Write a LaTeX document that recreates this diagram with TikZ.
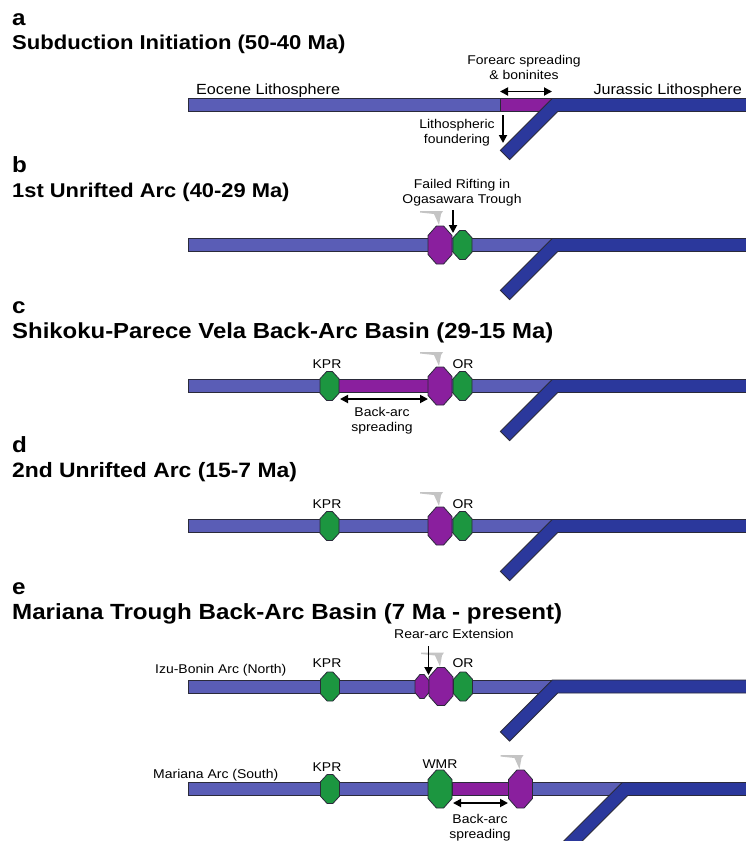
\documentclass[tikz,border=0pt]{standalone}
\usepackage{fontspec}
\setmainfont{Liberation Sans}[FakeStretch=1.1]
\usetikzlibrary{arrows.meta,positioning,calc}
\definecolor{Eocene}{HTML}{5A5DB6}
\definecolor{Jurassic}{HTML}{2B389C}
\definecolor{Arc}{HTML}{8A1F9E}
\definecolor{Ridge}{HTML}{1C9640}
\definecolor{Edge}{HTML}{2A2A3A}
\definecolor{Ash}{HTML}{C4C4C4}

% old plate bending into the trench: bend x, centre y, slab length
\newcommand{\oldplate}[3]{%
  \draw[old] (760,#2-6.5) -- (#1-2.7,#2-6.5) -- ++(-#3-1.9,#3+1.9) -- ++(9.2,9.2)
    -- (#1+2.7,#2+6.5) -- (760,#2+6.5) -- cycle;}

\begin{document}
\begin{tikzpicture}[x=1pt,y=-1pt,
  plate/.style={draw=Edge,line width=0.9pt},
  young/.style={plate,fill=Eocene},
  old/.style={plate,fill=Jurassic,line join=miter},
  spread/.style={plate,fill=Arc},
  lbl/.style={font=\fontsize{12.7}{15}\selectfont,align=center,inner sep=0pt,anchor=base},
  big/.style={font=\fontsize{14.7}{17}\selectfont,inner sep=0pt},
  head/.style={font=\fontsize{#1}{24}\selectfont\bfseries,inner sep=0pt,anchor=base west},
  head/.default=19.8,
  tag/.style={font=\fontsize{22}{24}\selectfont\bfseries,inner sep=0pt,anchor=base west},
  arrow/.style={-{Triangle[length=8pt,width=8pt]},line width=1.8pt},
  twoway/.style={{Triangle[length=8pt,width=8pt]}-{Triangle[length=8pt,width=8pt]},line width=1.8pt},
  pics/vent/.style n args={3}{code={
    \draw[draw=Edge,line width=0.8pt,fill=#3] (-0.15*#1,-#2/2) -- (0.15*#1,-#2/2) -- (#1/2,-#2/4)
      -- (#1/2,#2/4) -- (0.15*#1,#2/2) -- (-0.15*#1,#2/2) -- (-#1/2,#2/4) -- (-#1/2,-#2/4) -- cycle;}},
  pics/plume/.style={code={
    \fill[Ash] (-20,-15) -- (3,-15) -- (1,-12) -- (-1,-1) -- (-6,-12) -- (-20,-13.5) -- cycle;}}
]
\fill[white] (0,0) rectangle (745,841);
\useasboundingbox (0,0) rectangle (745,841);

% a
\node[tag] (la) at (12,25) {a};
\node[head=20.05] (ta) at (12,49) {Subduction Initiation (50-40 Ma)};
\draw[young] (188,98.5) rectangle (500,111.5);
\draw[spread] (500,98.5) rectangle (556,111.5);
\oldplate{555}{105}{50}
\node[big,anchor=base west] (eo) at (196,94) {Eocene Lithosphere};
\node[big,anchor=base east] (ju) at (742,94) {Jurassic Lithosphere};
\node[lbl] (fs) at (524,79) {Forearc spreading\\\& boninites};
\coordinate (fs1) at (500,91.5);
\coordinate (fs2) at (552,91.5);
\draw[twoway] (fs1) -- (fs2);
\node[lbl] (lf) at (457,143) {Lithospheric\\foundering};
\coordinate (lf1) at (503,115);
\coordinate (lf2) at (503,143);
\draw[arrow] (lf1) -- (lf2);

% b
\node[tag] (lb) at (12,172) {b};
\node[head=19.9] (tb) at (12,197) {1st Unrifted Arc (40-29 Ma)};
\draw[young] (188,238.5) rectangle (556,251.5);
\oldplate{555}{245}{50}
\pic at (440,245) {vent={24}{38}{Arc}};
\pic at (462.5,245) {vent={19}{29}{Ridge}};
\pic at (440,226) {plume};
\node[lbl] (fr) at (462,203) {Failed Rifting in\\Ogasawara Trough};
\coordinate (fr1) at (453,210);
\coordinate (fr2) at (453,233);
\draw[arrow] (fr1) -- (fr2);

% c
\node[tag] (lc) at (12,313) {c};
\node[head=21.75] (tc) at (12,338) {Shikoku-Parece Vela Back-Arc Basin (29-15 Ma)};
\draw[young] (188,379.5) rectangle (556,392.5);
\draw[spread] (337,379.5) rectangle (430,392.5);
\oldplate{555}{386}{50}
\pic at (329.5,386) {vent={19}{29}{Ridge}};
\pic at (440,386) {vent={24}{38}{Arc}};
\pic at (462.5,386) {vent={19}{29}{Ridge}};
\pic at (440,367) {plume};
\node[lbl] (kc) at (327,368) {KPR};
\node[lbl] (oc) at (463,368) {OR};
\coordinate (bc1) at (340,399);
\coordinate (bc2) at (428,399);
\draw[twoway] (bc1) -- (bc2);
\node[lbl] (bc) at (382,431) {Back-arc\\spreading};

% d
\node[tag] (ld) at (12,452) {d};
\node[head=20.8] (td) at (12,477) {2nd Unrifted Arc (15-7 Ma)};
\draw[young] (188,519.5) rectangle (556,532.5);
\oldplate{555}{526}{50}
\pic at (329.5,526) {vent={19}{29}{Ridge}};
\pic at (440,526) {vent={24}{38}{Arc}};
\pic at (462.5,526) {vent={19}{29}{Ridge}};
\pic at (440,507) {plume};
\node[lbl] (kd) at (327,508) {KPR};
\node[lbl] (od) at (463,508) {OR};

% e
\node[tag] (le) at (12,594) {e};
\node[head=21.95] (te) at (12,619) {Mariana Trough Back-Arc Basin (7 Ma - present)};
% north
\node[lbl,anchor=base west] (nn) at (155,673) {Izu-Bonin Arc (North)};
\draw[young] (188,680) rectangle (556,693);
\oldplate{555}{686.5}{50}
\pic at (330,686.5) {vent={19}{29}{Ridge}};
\pic at (422,686.5) {vent={14}{24}{Arc}};
\pic at (441,686.5) {vent={24}{38}{Arc}};
\pic at (463,686.5) {vent={19}{29}{Ridge}};
\pic at (441,667.5) {plume};
\node[lbl] (kn) at (327,667.5) {KPR};
\node[lbl] (on) at (463,667.5) {OR};
\node[lbl] (ra) at (454,638) {Rear-arc Extension};
\coordinate (ra1) at (428.5,646);
\coordinate (ra2) at (428.5,675);
\draw[arrow] (ra1) -- (ra2);
% south
\node[lbl,anchor=base west] (ss) at (153,778) {Mariana Arc (South)};
\draw[young] (188,782.5) rectangle (626,795.5);
\draw[spread] (452,782.5) rectangle (510,795.5);
\oldplate{625}{789}{60}
\pic at (330,789) {vent={19}{29}{Ridge}};
\pic at (440,789) {vent={24}{38}{Ridge}};
\pic at (520.5,789) {vent={24}{38}{Arc}};
\pic at (520.5,770) {plume};
\node[lbl] (ks) at (327,771) {KPR};
\node[lbl] (ws) at (440,768) {WMR};
\coordinate (bs1) at (453,803);
\coordinate (bs2) at (508,803);
\draw[twoway] (bs1) -- (bs2);
\node[lbl] (bs) at (480,838) {Back-arc\\spreading};
\end{tikzpicture}
\end{document}
